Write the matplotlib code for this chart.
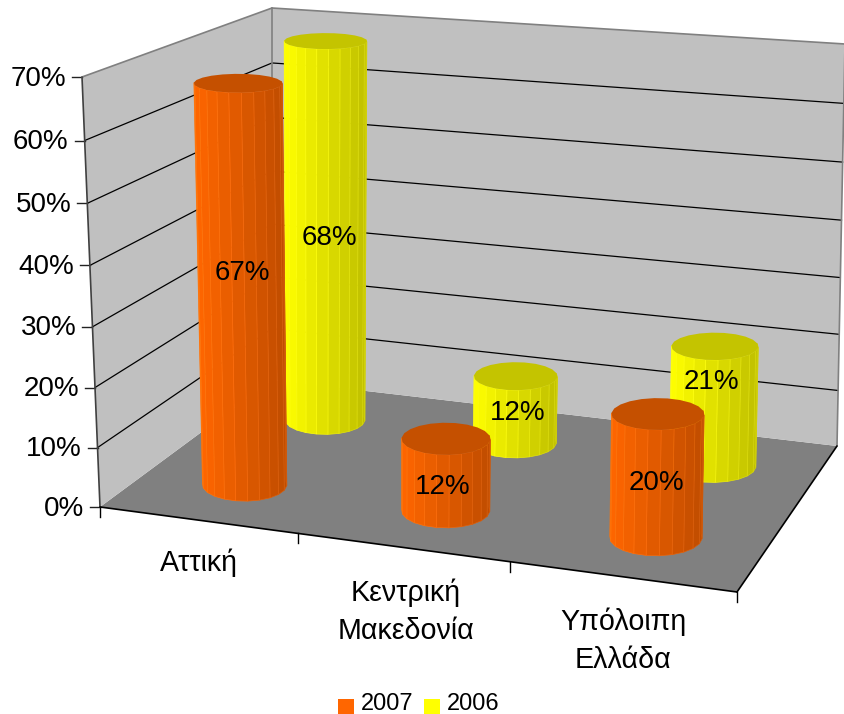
import numpy as np
import matplotlib
matplotlib.use('Agg')
import matplotlib.pyplot as plt
from matplotlib.patches import Polygon, Rectangle

plt.rcParams['font.family'] = ['Liberation Sans', 'DejaVu Sans']

categories = ['Αττική', 'Κεντρική\nΜακεδονία', 'Υπόλοιπη\nΕλλάδα']
series_names = ['2007', '2006']
values_2007 = [0.67, 0.12, 0.20]
values_2006 = [0.68, 0.12, 0.21]
y_ticks = [0, 0.1, 0.2, 0.3, 0.4, 0.5, 0.6, 0.7]

# corners of the 3d box in pixels: front left, front right, back right, back left
floor_px = [(100, 507), (737, 592), (837, 446), (272, 380)]
ceil_px = [(82, 77), (744, 122), (845, 44), (272, 8)]
z_max = 0.7
persp = 1.04
tick_persp = 1.035
radius_u = 0.215
radius_v = 0.12
n_sides = 22

# small pixel nudges for the value labels, (dx, dy) per category
nudge_2007 = [(1, -15), (-3, 12), (0, 7)]
nudge_2006 = [(4, 4), (3, 3), (-2, -25)]


def homography(pts):
    src = [(0, 0), (1, 0), (1, 1), (0, 1)]
    a = []
    b = []
    for (u, v), (x, y) in zip(src, pts):
        a.append([u, v, 1, 0, 0, 0, -u * x, -v * x])
        a.append([0, 0, 0, u, v, 1, -u * y, -v * y])
        b += [x, y]
    h = np.linalg.solve(np.array(a, dtype=float), np.array(b, dtype=float))
    return np.append(h, 1).reshape(3, 3)


h_floor = homography(floor_px)
h_ceil = homography(ceil_px)


def apply_h(h, u, v):
    p = h @ np.array([u, v, 1.0])
    return p[:2] / p[2]


def project(cat, depth, z):
    # cat goes 0..3 along the categories, depth 0..1 from front to back
    p0 = apply_h(h_floor, cat / 3, depth)
    p1 = apply_h(h_ceil, cat / 3, depth)
    f = z / z_max
    f = f / (persp + (1 - persp) * f)
    return p0 + (p1 - p0) * f


def ellipse_at(cat, depth, z):
    # the disc stays upright on screen, only its size follows the box
    c = project(cat, depth, z)
    rx = abs(project(cat + radius_u, depth, z)[0] - project(cat - radius_u, depth, z)[0]) / 2
    ry = abs(project(cat, depth - radius_v, z)[1] - project(cat, depth + radius_v, z)[1]) / 2
    return c, rx, ry


def cylinder(ax, cat, depth, val, side_col, top_col):
    ang = np.linspace(0, 2 * np.pi, n_sides + 1) + 0.07
    c0, rx0, ry0 = ellipse_at(cat, depth, 0)
    c1, rx1, ry1 = ellipse_at(cat, depth, val)
    bx = c0[0] + rx0 * np.cos(ang)
    by = c0[1] + ry0 * np.sin(ang)
    tx = c1[0] + rx1 * np.cos(ang)
    ty = c1[1] + ry1 * np.sin(ang)
    for i in range(n_sides):
        mid = (ang[i] + ang[i + 1]) / 2
        if np.sin(mid) < -0.15:
            continue
        # light from the left, dark on the right
        shade = 0.5 + 0.5 * np.cos(mid)
        col = np.array(side_col) * (1 - 0.25 * shade)
        quad = [(bx[i], by[i]), (bx[i + 1], by[i + 1]), (tx[i + 1], ty[i + 1]), (tx[i], ty[i])]
        ax.add_patch(Polygon(quad, closed=True, facecolor=col / 255,
                             edgecolor=np.minimum(col * 1.05 + 10, 255) / 255,
                             linewidth=0.5, zorder=3))
    ax.add_patch(Polygon(np.column_stack([tx[:-1], ty[:-1]]), closed=True,
                         facecolor=np.array(top_col) / 255, edgecolor='none', zorder=3))


fig = plt.figure(figsize=(8.45, 7.14), dpi=100)
ax = fig.add_axes([0, 0, 1, 1])
ax.set_xlim(0, 845)
ax.set_ylim(714, 0)
ax.axis('off')

# walls and floor
ax.add_patch(Polygon(floor_px, closed=True, facecolor='#808080', edgecolor='none', zorder=1))
ax.add_patch(Polygon([floor_px[0], floor_px[3], ceil_px[3], ceil_px[0]], closed=True,
                     facecolor='#c0c0c0', edgecolor='none', zorder=1))
ax.add_patch(Polygon([floor_px[3], floor_px[2], ceil_px[2], ceil_px[3]], closed=True,
                     facecolor='#c0c0c0', edgecolor='none', zorder=1))

# grid lines and y ticks
for t in y_ticks:
    a = project(0, 0, t)
    b = project(0, 1, t)
    c = project(3, 1, t)
    if t > 0 and t < z_max:
        ax.plot([a[0], b[0], c[0]], [a[1], b[1], c[1]], color='black', lw=0.9, zorder=2)
    ax.plot([a[0] - 10, a[0]], [a[1], a[1]], color='#222222', lw=1, zorder=2)
    ax.text(a[0] - 16, a[1] + 1.5, f'{t:.0%}', ha='right', va='center', fontsize=20, color='black')

# frame
for p, q, col in [(ceil_px[0], ceil_px[3], '#808080'), (ceil_px[3], ceil_px[2], '#808080'),
                  (ceil_px[3], floor_px[3], '#808080'), (ceil_px[2], floor_px[2], '#808080'),
                  (ceil_px[0], floor_px[0], '#404040'), (floor_px[0], floor_px[1], 'black'),
                  (floor_px[1], floor_px[2], 'black')]:
    ax.plot([p[0], q[0]], [p[1], q[1]], color=col, lw=1.2, zorder=2, solid_capstyle='round')

# x ticks
for i in range(4):
    u = i / 3
    u = u / (tick_persp + (1 - tick_persp) * u)
    a = project(3 * u, 0, 0)
    ax.plot([a[0], a[0]], [a[1], a[1] + 10], color='black', lw=1, zorder=2)

# cylinders, back row first
orange = (255, 102, 0)
yellow = (255, 255, 0)
for i in range(len(categories)):
    cylinder(ax, i + 0.5, 0.75, values_2006[i], yellow, (196, 196, 0))
for i in range(len(categories)):
    cylinder(ax, i + 0.5, 0.25, values_2007[i], orange, (197, 80, 0))

# value labels
for i in range(len(categories)):
    p = project(i + 0.5, 0.75, values_2006[i] * 0.5)
    ax.text(p[0] + nudge_2006[i][0], p[1] + nudge_2006[i][1], f'{values_2006[i]:.0%}',
            ha='center', va='center', fontsize=20, zorder=5)
    p = project(i + 0.5, 0.25, values_2007[i] * 0.5)
    ax.text(p[0] + nudge_2007[i][0], p[1] + nudge_2007[i][1], f'{values_2007[i]:.0%}',
            ha='center', va='center', fontsize=20, zorder=5)

# category labels
for i, name in enumerate(categories):
    p = project(i + 0.5, 0, 0)
    dy = 63.5 if '\n' in name else 42
    ax.text(p[0] - 1.5, p[1] + dy, name, ha='center', va='center', fontsize=20.6, linespacing=1.45)

# legend
ax.add_patch(Rectangle((338, 699), 16, 15, facecolor='#ff6600', edgecolor='none'))
ax.text(361, 704, series_names[0], ha='left', va='center', fontsize=17)
ax.add_patch(Rectangle((424, 699), 16, 15, facecolor='#ffff00', edgecolor='none'))
ax.text(447, 704, series_names[1], ha='left', va='center', fontsize=17)

fig.savefig('out.png', dpi=100)
